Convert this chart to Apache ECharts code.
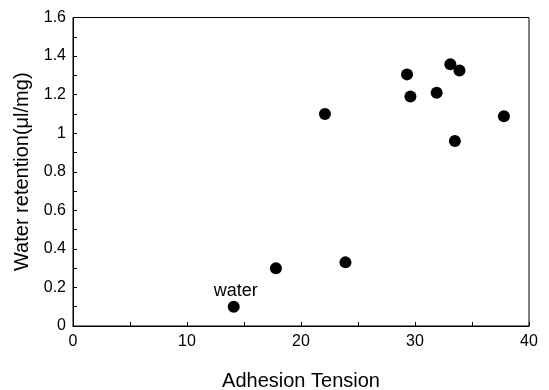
<!DOCTYPE html>
<html>
<head>
<meta charset="utf-8">
<script src="https://cdn.jsdelivr.net/npm/echarts@6/dist/echarts.min.js"></script>
<style>html,body{margin:0;padding:0;background:#fff}#c{width:549px;height:390px}</style>
</head>
<body>
<div id="c"></div>
<script>
const adhesionTension = [14.1, 17.8, 22.1, 23.9, 29.3, 29.6, 31.9, 33.1, 33.9, 33.5, 37.8];
const waterRetention = [0.10, 0.30, 1.10, 0.33, 1.305, 1.19, 1.21, 1.357, 1.325, 0.96, 1.088];
const pointLabels = ['water', '', '', '', '', '', '', '', '', '', ''];
const xTitle = 'Adhesion Tension';
const yTitle = 'Water retention(\u03bcl/mg)';

const FONT = 'Liberation Sans';
const data = adhesionTension.map((x, i) => ({
  value: [x, waterRetention[i]],
  label: pointLabels[i] ? { show: true, formatter: pointLabels[i], position: 'top', distance: 1, offset: [2, 0], color: '#000', fontSize: 18, fontFamily: FONT } : { show: false }
}));

const chart = echarts.init(document.getElementById('c'), null, { renderer: 'canvas' });
const axisCommon = {
  axisLine: { show: true, lineStyle: { color: '#000', width: 1 } },
  axisTick: { show: true, inside: true, length: 4, lineStyle: { color: '#000', width: 1 } },
  minorTick: { show: true, splitNumber: 2, length: 4, lineStyle: { color: '#000', width: 1 } },
  splitLine: { show: false },
  minorSplitLine: { show: false }
};
chart.setOption({
  animation: false,
  backgroundColor: '#fff',
  grid: { left: 73, right: 20, top: 17.5, bottom: 64, containLabel: false, outerBoundsMode: 'none', show: true, borderColor: '#000', borderWidth: 1, backgroundColor: 'transparent' },
  xAxis: Object.assign({
    type: 'value', min: 0, max: 40, interval: 10,
    name: xTitle, nameLocation: 'middle', nameGap: 45,
    nameTextStyle: { color: '#000', fontSize: 20, fontFamily: FONT },
    axisLabel: { color: '#000', fontSize: 16, fontFamily: FONT, margin: 8 }
  }, axisCommon),
  yAxis: Object.assign({
    type: 'value', min: 0, max: 1.6, interval: 0.2,
    name: yTitle, nameLocation: 'middle', nameGap: 39,
    nameTextStyle: { color: '#000', fontSize: 20, fontFamily: FONT },
    axisLabel: { color: '#000', fontSize: 16, fontFamily: FONT, margin: 7 }
  }, axisCommon),
  series: [{
    type: 'scatter',
    symbol: 'circle',
    symbolSize: 12,
    itemStyle: { color: '#000', opacity: 1 },
    data: data
  }]
});
</script>
</body>
</html>
